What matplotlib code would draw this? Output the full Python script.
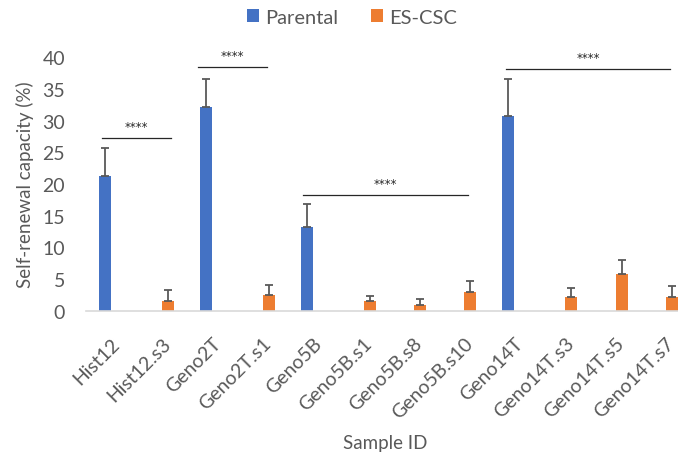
import numpy as np
import matplotlib.pyplot as plt

plt.rcParams['font.family'] = ['Lato', 'DejaVu Sans']

samples = ["Hist12", "Hist12.s3", "Geno2T", "Geno2T.s1", "Geno5B", "Geno5B.s1",
           "Geno5B.s8", "Geno5B.s10", "Geno14T", "Geno14T.s3", "Geno14T.s5", "Geno14T.s7"]
parental = [21.3, np.nan, 32.1, np.nan, 13.2, np.nan, np.nan, np.nan, 30.7, np.nan, np.nan, np.nan]
parental_err = [4.4, np.nan, 4.5, np.nan, 3.7, np.nan, np.nan, np.nan, 5.9, np.nan, np.nan, np.nan]
escsc = [np.nan, 1.5, np.nan, 2.4, np.nan, 1.5, 0.9, 3.0, np.nan, 2.2, 5.8, 2.2]
escsc_err = [np.nan, 1.8, np.nan, 1.7, np.nan, 0.8, 0.9, 1.7, np.nan, 1.4, 2.2, 1.7]

# significance brackets: (start, end, height, label)
brackets = [(-0.19, 1.18, 27.3, "****"),
            (1.72, 3.09, 38.4, "****"),
            (3.80, 7.07, 18.2, "****"),
            (7.83, 11.08, 38.1, "****")]

blue = "#4472C4"
orange = "#ED7D31"
grey = "#595959"

fig = plt.figure(figsize=(6.78, 4.56), dpi=100)
ax = fig.add_axes([86/678, 144.3/456, 605/678, 253.4/456])

x = np.arange(len(samples))
w = 0.24
err_style = dict(fmt='none', ecolor=grey, elinewidth=1.3, capsize=2.6, capthick=1.3)

ax.bar(x - 0.125, parental, w, color=blue, label="Parental", zorder=2)
ax.bar(x + 0.125, escsc, w, color=orange, label="ES-CSC", zorder=2)
ax.errorbar(x - 0.125, parental, yerr=[np.zeros(len(x)), parental_err], zorder=3, **err_style)
ax.errorbar(x + 0.125, escsc, yerr=[np.zeros(len(x)), escsc_err], zorder=3, **err_style)

for x0, x1, y, lab in brackets:
    ax.plot([x0, x1], [y, y], color="#262626", lw=0.9, zorder=3)
    ax.text((x0 + x1) / 2, y + 0.8, lab, ha='center', va='bottom', fontsize=8.5,
            color="#262626", family='DejaVu Sans')

ax.set_xlim(-0.5, 11.5)
ax.set_ylim(0, 40)
ax.set_yticks(range(0, 41, 5))
ax.set_xticks(x)
ax.set_xticklabels(samples, rotation=45, ha='right', rotation_mode='anchor')
ax.tick_params(axis='both', length=0, labelsize=14, labelcolor=grey)
ax.tick_params(axis='x', pad=17)
ax.tick_params(axis='y', pad=15)
for s in ['top', 'right', 'left']:
    ax.spines[s].set_visible(False)
ax.spines['bottom'].set_color("#D9D9D9")
ax.spines['bottom'].set_linewidth(1.2)

ax.set_ylabel("Self-renewal capacity (%)", fontsize=13.5, color=grey)
ax.yaxis.set_label_coords(-52/605, 0.5)
fig.text(385/678, 1 - 444/456, "Sample ID", ha='center', va='center', fontsize=13.5, color=grey)

fig.legend(loc='center', bbox_to_anchor=(352/678, 1 - 18/456), ncol=2, frameon=False,
           fontsize=14.5, labelcolor=grey, handlelength=0.6, handleheight=0.6,
           handletextpad=0.3, columnspacing=1.6)

fig.savefig("out.png", dpi=100)
